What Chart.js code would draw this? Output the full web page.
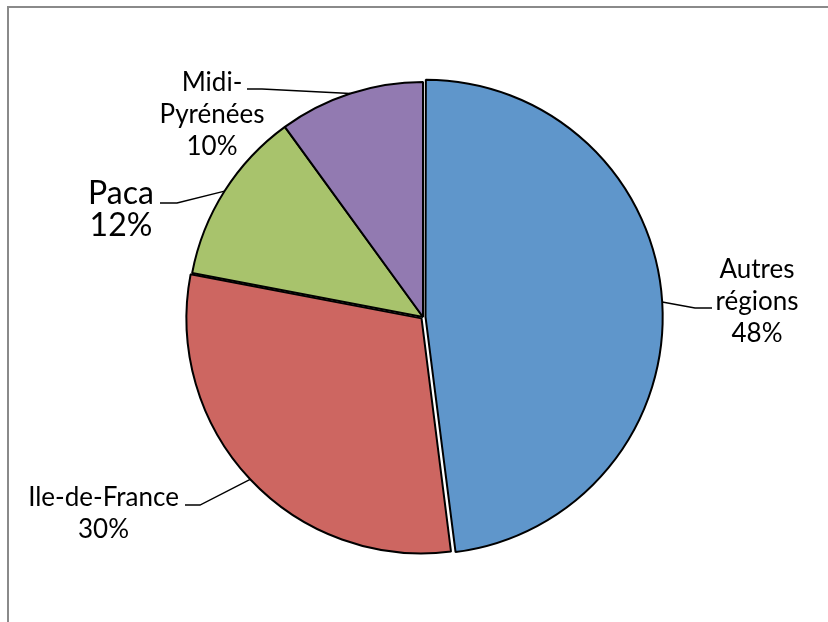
<!DOCTYPE html>
<html><head><meta charset="utf-8">
<script src="https://cdn.jsdelivr.net/npm/chart.js@4/dist/chart.umd.min.js"></script>
<style>html,body{margin:0;padding:0;background:#fff}canvas{display:block}</style>
</head><body>
<canvas id="c" width="828" height="622"></canvas>
<script>
// Répartition par région
const regions = ['Autres régions', 'Ile-de-France', 'Paca', 'Midi-Pyrénées'];
const shares = [48, 30, 12, 10];
const labelLines = [['Autres', 'régions'], ['Ile-de-France'], ['Paca'], ['Midi-', 'Pyrénées']];
const sliceColors = ['#5F96CB', '#CD6661', '#A8C36C', '#927AB1'];
const sliceOffsets = [10, 8, 0, 0];

// Label placement relative to the pie centre:
// tx/ty = text centre and first baseline, sx/sy = end of leader stub, elbow = stub length
const labelLayout = [
  {tx: 334, ty: -39, sx: 289, sy: -9, elbow: -17, size: 26},
  {tx: -319.5, ty: 189, sx: -238, sy: 188, elbow: 15, size: 26},
  {tx: -302, ty: -113, sx: -263, sy: -114, elbow: 17, size: 32},
  {tx: -211, ty: -226, sx: -176, sy: -228, elbow: 15, size: 26}
];
const lineStep = 32;
const fontFamily = 'Lato, "Open Sans", sans-serif';

const frame = {
  id: 'frame',
  beforeDraw(chart) {
    const ctx = chart.ctx;
    ctx.save();
    ctx.strokeStyle = '#8A8A8A';
    ctx.lineWidth = 2;
    ctx.beginPath();
    ctx.moveTo(8, chart.height);
    ctx.lineTo(8, 7);
    ctx.lineTo(chart.width, 7);
    ctx.stroke();
    ctx.restore();
  }
};

const leaderLabels = {
  id: 'leaderLabels',
  afterDatasetsDraw(chart) {
    const ctx = chart.ctx;
    const meta = chart.getDatasetMeta(0);
    ctx.save();
    meta.data.forEach((arc, i) => {
      const p = arc.getProps(['x', 'y', 'startAngle', 'endAngle', 'outerRadius', 'circumference'], true);
      const mid = (p.startAngle + p.endAngle) / 2;
      const off = (arc.options.offset || 0) / 4;
      const shift = off * (2 - Math.sin(Math.min(Math.PI, p.circumference)));
      const ax = p.x + Math.cos(mid) * (p.outerRadius + shift);
      const ay = p.y + Math.sin(mid) * (p.outerRadius + shift);
      const L = labelLayout[i];
      const sx = p.x + L.sx, sy = p.y + L.sy;
      ctx.strokeStyle = '#000';
      ctx.lineWidth = 1.4;
      ctx.beginPath();
      ctx.moveTo(ax, ay);
      ctx.lineTo(sx + L.elbow, sy);
      ctx.lineTo(sx, sy);
      ctx.stroke();

      const lines = labelLines[i].concat([shares[i] + '%']);
      ctx.fillStyle = '#000';
      ctx.font = L.size + 'px ' + fontFamily;
      ctx.textAlign = 'center';
      ctx.textBaseline = 'alphabetic';
      lines.forEach((t, k) => {
        ctx.fillText(t, p.x + L.tx, p.y + L.ty + k * lineStep);
      });
    });
    ctx.restore();
  }
};

new Chart(document.getElementById('c'), {
  type: 'pie',
  data: {
    labels: regions,
    datasets: [{
      data: shares,
      backgroundColor: sliceColors,
      borderColor: '#000',
      borderWidth: 2,
      offset: sliceOffsets
    }]
  },
  options: {
    responsive: false,
    animation: false,
    radius: 235,
    layout: {padding: {left: 18, right: 0, top: 12, bottom: 0}},
    plugins: {
      legend: {display: false},
      tooltip: {enabled: false}
    }
  },
  plugins: [frame, leaderLabels]
});
</script>
</body></html>
